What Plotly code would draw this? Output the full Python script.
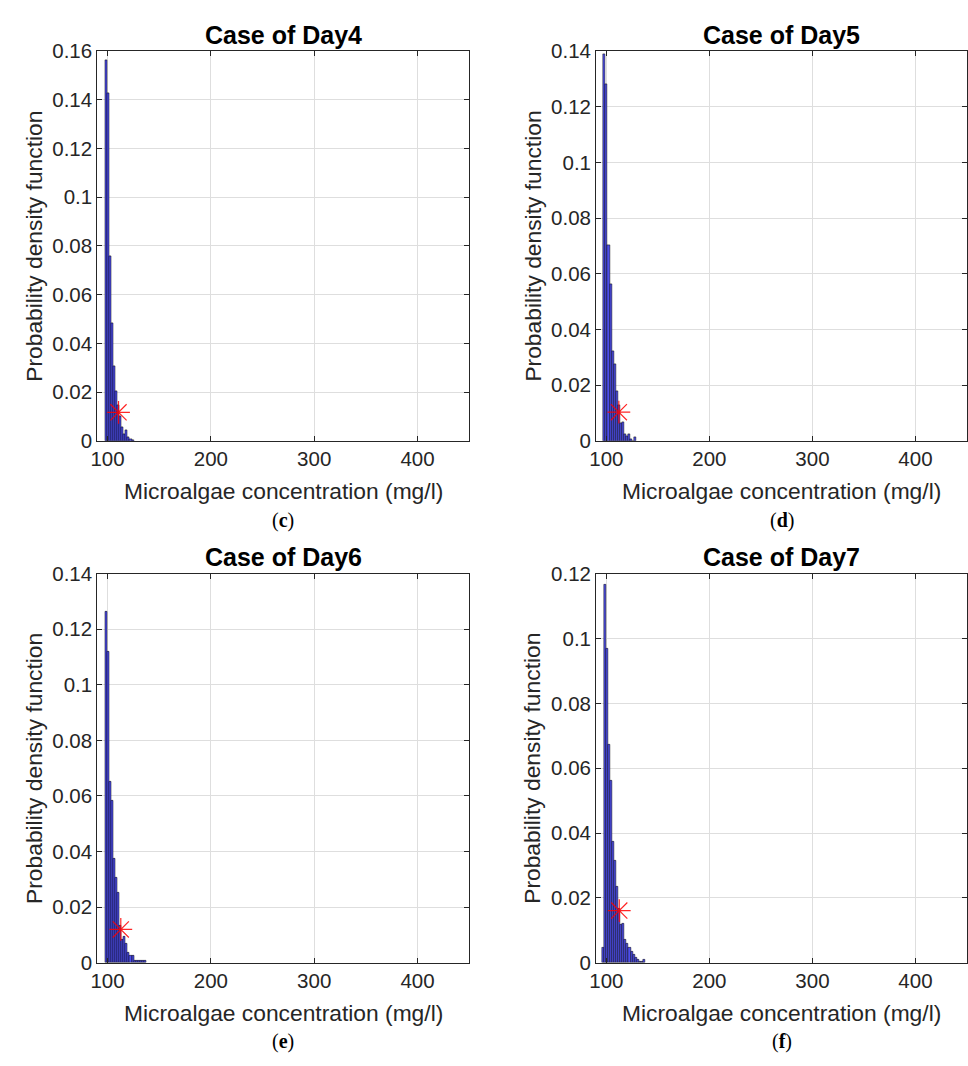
import plotly.graph_objects as go

# Histogram bins (mg/l) and pdf heights for each day
bin_width = 2.0

day4_start = 97.4
day4_pdf = [0.1564, 0.1426, 0.0760, 0.0482, 0.0305, 0.0204, 0.0148, 0.0100,
            0.0058, 0.0028, 0.0043, 0.0016, 0.0008, 0.0003]
day4_star = (110.6, 0.0117)

day5_start = 97.1
day5_pdf = [0.1391, 0.1283, 0.0703, 0.0562, 0.0322, 0.0275, 0.0179, 0.0129,
            0.0064, 0.0067, 0.0023, 0.0018, 0.0023, 0.0006, 0.0, 0.0012]
day5_star = (112.1, 0.0103)

day6_start = 97.4
day6_pdf = [0.1265, 0.1121, 0.0651, 0.0584, 0.0376, 0.0305, 0.0252, 0.0135,
            0.0082, 0.0094, 0.0070, 0.0035, 0.0026, 0.0026, 0.0008, 0.0008,
            0.0006, 0.0006, 0.0006, 0.0006]
day6_star = (112.8, 0.0120)

day7_start = 95.5
day7_pdf = [0.0047, 0.1167, 0.0969, 0.0672, 0.0563, 0.0374, 0.0314, 0.0236,
            0.0166, 0.0118, 0.0121, 0.0070, 0.0060, 0.0047, 0.0035, 0.0025,
            0.0015, 0.0010, 0.0005, 0.0005, 0.0011]
day7_star = (112.5, 0.0161)

titles = ["Case of Day4", "Case of Day5", "Case of Day6", "Case of Day7"]
letters = ["c", "d", "e", "f"]
y_max = [0.16, 0.14, 0.14, 0.12]
x_ticks = [100, 200, 300, 400]

panels = [
    (day4_start, day4_pdf, day4_star),
    (day5_start, day5_pdf, day5_star),
    (day6_start, day6_pdf, day6_star),
    (day7_start, day7_pdf, day7_star),
]

W, H = 968, 1066
# panel frames in pixels: (left, right, top, bottom)
frames = [
    (91, 466, 40, 438.3),
    (594, 968, 40, 438.3),
    (91, 466, 574, 971.7),
    (594, 968, 574, 971.7),
]

AX = "#262626"
GRID = "#dedede"
FONT = "Liberation Sans, Arial, sans-serif"

fig = go.Figure()
layout = dict(
    width=W, height=H,
    margin=dict(l=0, r=0, t=0, b=0),
    paper_bgcolor="white", plot_bgcolor="white",
    showlegend=False, bargap=0,
    font=dict(family=FONT, color=AX, size=20),
)
annotations = []

for i, ((start, pdf, star), (l, r, t, b)) in enumerate(zip(panels, frames)):
    k = "" if i == 0 else str(i + 1)
    xa, ya = "x" + k, "y" + k
    centers = [start + bin_width * (j + 0.5) for j in range(len(pdf))]
    fig.add_trace(go.Bar(
        x=centers, y=pdf, width=[bin_width] * len(pdf),
        marker=dict(color="rgb(78,78,235)", line=dict(color="black", width=0.5)),
        xaxis=xa, yaxis=ya,
    ))
    fig.add_trace(go.Scatter(
        x=[star[0]], y=[star[1]], mode="markers",
        marker=dict(symbol="asterisk-open", size=19, color="rgba(255,0,0,0.85)",
                    line=dict(color="rgba(255,0,0,0.85)", width=1.2)),
        xaxis=xa, yaxis=ya,
    ))
    common = dict(showline=True, linecolor=AX, linewidth=1, mirror="ticks",
                  ticks="inside", ticklen=5, tickcolor=AX, tickwidth=1,
                  showgrid=True, gridcolor=GRID, gridwidth=1, zeroline=False,
                  tickfont=dict(family=FONT, size=20.5, color=AX))
    layout["xaxis" + k] = dict(
        domain=[l / W, r / W], range=[90, 450], tickvals=x_ticks,
        anchor=ya, **common)
    layout["yaxis" + k] = dict(
        domain=[1 - b / H, 1 - t / H], range=[0, y_max[i]], dtick=0.02,
        anchor=xa, **common)

    cx = (l + r) / 2
    annotations.append(dict(
        text="<b>" + titles[i] + "</b>", x=cx / W, y=1 - (t - 17) / H,
        xref="paper", yref="paper", xanchor="center", yanchor="middle",
        showarrow=False, font=dict(family=FONT, size=25, color="black")))
    annotations.append(dict(
        text="Microalgae concentration (mg/l)", x=cx / W, y=1 - (b + 51) / H,
        xref="paper", yref="paper", xanchor="center", yanchor="middle",
        showarrow=False, font=dict(family=FONT, size=22.8, color=AX)))
    annotations.append(dict(
        text="Probability density function", x=(l - 64) / W, y=1 - (t + b) / 2 / H,
        xref="paper", yref="paper", xanchor="center", yanchor="middle",
        textangle=-90, showarrow=False,
        font=dict(family=FONT, size=22.8, color=AX)))
    annotations.append(dict(
        text="(<b>" + letters[i] + "</b>)", x=cx / W, y=1 - (b + 81) / H,
        xref="paper", yref="paper", xanchor="center", yanchor="middle",
        showarrow=False,
        font=dict(family="Liberation Serif, DejaVu Serif, serif", size=20,
                  color="black")))

layout["annotations"] = annotations
fig.update_layout(**layout)
fig.write_html("out.html")
